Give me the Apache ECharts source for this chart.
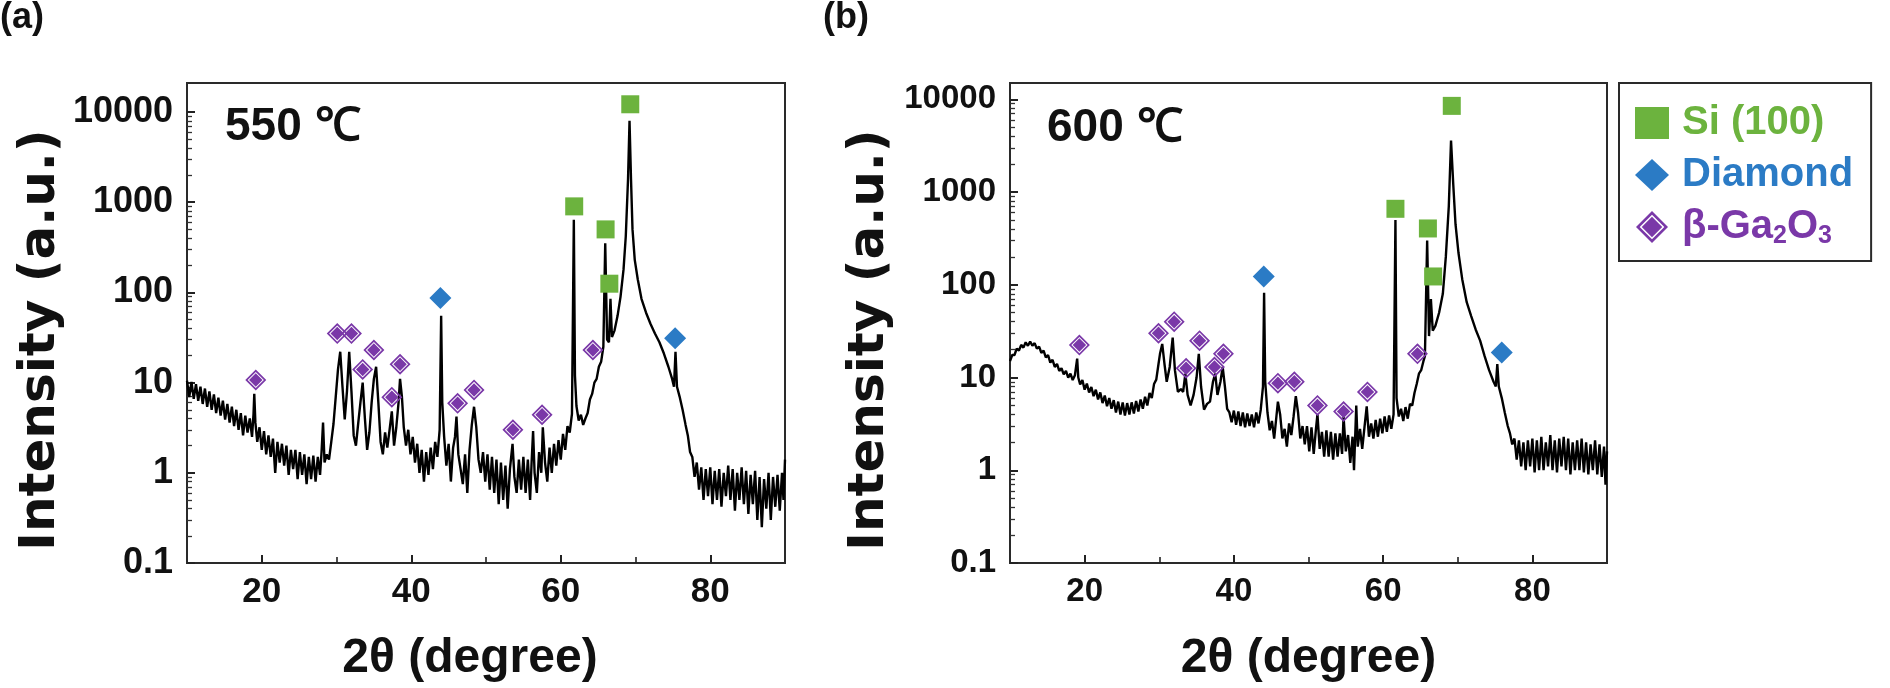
<!DOCTYPE html>
<html><head><meta charset="utf-8">
<script src="https://cdn.jsdelivr.net/npm/echarts@6/dist/echarts.min.js"></script>
<style>html,body{margin:0;padding:0;background:#fff}#c{width:1890px;height:688px}</style>
</head><body><div id="c"></div>
<script>
// ---- tick values / labels ----
const xTicks = [20, 40, 60, 80];
const xMinorTicks = [30, 50, 70];
const yTicks = [0.1, 1, 10, 100, 1000, 10000];
const yTickLabels = ['0.1', '1', '10', '100', '1000', '10000'];
const yMinorTicks = [0.2,0.3,0.4,0.5,0.6,0.7,0.8,0.9,2,3,4,5,6,7,8,9,20,30,40,50,60,70,80,90,200,300,400,500,600,700,800,900,2000,3000,4000,5000,6000,7000,8000,9000];
const legendNames = ['Si (100)', 'Diamond', 'β-Ga2O3'];
const panelLabels = ['(a)', '(b)'];
const tempLabels = ['550 ℃', '600 ℃'];

// ---- XRD pattern, 550 C (2theta, intensity) ----
const pattern550 = [[10.0,10.5],[10.3,6.9],[10.6,10.2],[10.9,6.6],[11.2,9.6],[11.5,6.3],[11.8,9.0],[12.1,5.8],[12.4,8.6],[12.7,5.4],[13.0,8.0],[13.3,5.0],[13.6,7.4],[13.9,4.6],[14.2,6.8],[14.5,4.3],[14.8,6.3],[15.1,3.9],[15.4,5.8],[15.7,3.6],[16.0,5.4],[16.3,3.3],[16.6,5.0],[16.9,3.0],[17.2,4.6],[17.5,2.6],[17.8,4.3],[18.1,2.8],[18.4,4.0],[18.7,2.5],[18.9,4.5],[19.0,7.5],[19.15,3.6],[19.4,2.2],[19.7,3.2],[20.0,1.8],[20.3,2.9],[20.6,1.6],[20.9,2.6],[21.2,1.5],[21.5,2.4],[21.8,1.0],[22.1,2.2],[22.4,1.3],[22.7,2.1],[23.0,1.2],[23.3,2.0],[23.6,0.95],[23.9,1.8],[24.2,1.1],[24.5,1.8],[24.8,0.85],[25.1,1.7],[25.4,0.95],[25.7,1.6],[26.0,0.75],[26.3,1.5],[26.6,0.85],[26.9,1.55],[27.2,0.8],[27.5,1.5],[27.8,0.95],[28.0,1.7],[28.2,3.6],[28.4,1.3],[28.7,1.6],[29.0,1.4],[29.3,2.2],[29.6,3.5],[29.9,7],[30.2,14],[30.5,22],[30.8,9],[31.1,3.9],[31.4,8],[31.7,22],[32.0,8],[32.3,2.6],[32.6,2.0],[32.9,3.5],[33.2,6],[33.5,10],[33.8,4],[34.1,1.8],[34.4,2.8],[34.7,6],[35.0,11],[35.3,15],[35.6,6],[35.9,2.2],[36.2,1.6],[36.5,2.8],[36.8,1.9],[37.1,3.0],[37.4,4.8],[37.7,2.0],[38.0,3.2],[38.3,6],[38.5,11],[38.75,7],[39.0,3.2],[39.3,2.0],[39.6,3.0],[39.9,1.6],[40.2,2.5],[40.5,1.3],[40.8,2.1],[41.1,1.0],[41.4,1.8],[41.7,0.8],[42.0,1.7],[42.3,0.95],[42.6,1.9],[42.9,1.1],[43.2,2.2],[43.5,1.5],[43.8,3.0],[44.0,55],[44.15,6],[44.4,2.5],[44.7,1.2],[45.0,2.1],[45.3,0.8],[45.6,1.9],[45.85,2.5],[46.05,4.2],[46.3,1.6],[46.6,1.1],[46.9,0.75],[47.2,1.6],[47.5,0.6],[47.8,1.8],[48.1,3.4],[48.4,5.4],[48.7,3.2],[49.0,1.4],[49.3,1.0],[49.6,1.7],[49.9,0.8],[50.2,1.6],[50.5,0.65],[50.8,1.5],[51.1,0.6],[51.4,1.4],[51.7,0.45],[52.0,1.3],[52.3,0.5],[52.6,1.2],[52.9,0.4],[53.2,1.1],[53.55,2.1],[53.8,0.9],[54.1,0.6],[54.4,1.4],[54.7,0.65],[55.0,1.5],[55.3,0.6],[55.6,1.4],[55.9,0.5],[56.1,1.3],[56.3,2.9],[56.5,1.0],[56.8,0.6],[57.1,1.7],[57.4,1.0],[57.6,3.2],[57.9,1.3],[58.2,0.8],[58.5,1.9],[58.8,1.0],[59.1,2.1],[59.4,1.2],[59.7,2.3],[60.0,1.4],[60.3,2.7],[60.6,1.8],[60.9,3.3],[61.2,2.8],[61.5,4.5],[61.75,640],[61.9,12],[62.1,5.5],[62.4,3.8],[62.7,4.4],[63.0,3.4],[63.3,4.0],[63.6,4.6],[63.9,6.5],[64.2,7.5],[64.5,10],[64.8,11],[65.1,15],[65.4,17],[65.7,25],[65.95,350],[66.2,30],[66.45,28],[66.65,85],[66.85,32],[67.2,38],[67.6,55],[68.0,90],[68.4,180],[68.7,420],[69.0,1800],[69.2,8000],[69.4,1800],[69.6,500],[69.9,230],[70.3,140],[70.8,85],[71.4,60],[72.0,45],[72.6,35],[73.2,28],[73.8,21],[74.4,15],[74.9,11],[75.15,9],[75.35,22],[75.55,9],[75.9,7],[76.3,5],[76.7,3.4],[77.0,2.6],[77.3,1.7],[77.6,1.5],[77.9,0.9],[78.2,1.3],[78.5,0.65],[78.8,1.15],[79.1,0.5],[79.4,1.1],[79.7,0.55],[80.0,1.15],[80.3,0.45],[80.6,1.05],[80.9,0.5],[81.2,1.1],[81.5,0.42],[81.8,1.0],[82.1,0.55],[82.4,1.2],[82.7,0.5],[83.0,1.1],[83.3,0.38],[83.6,1.0],[83.9,0.5],[84.2,1.15],[84.5,0.45],[84.8,1.05],[85.1,0.35],[85.4,0.95],[85.7,0.45],[86.0,1.05],[86.3,0.3],[86.6,0.9],[86.9,0.25],[87.2,0.85],[87.5,0.4],[87.8,1.0],[88.1,0.3],[88.4,0.9],[88.7,0.42],[89.0,0.95],[89.3,0.38],[89.6,1.0],[89.8,0.5],[90.0,1.4]];

// ---- XRD pattern, 600 C ----
const pattern600 = [[10.0,15],[10.3,17.5],[10.6,17.5],[10.9,20.5],[11.2,19.5],[11.5,22.5],[11.8,21],[12.1,24],[12.4,22],[12.7,24.5],[13.0,22],[13.3,23.5],[13.6,20.5],[13.9,21.5],[14.2,18.5],[14.5,19.5],[14.8,16.5],[15.1,17.5],[15.4,14.5],[15.7,15.5],[16.0,13],[16.3,14],[16.6,11.8],[16.9,12.6],[17.2,10.8],[17.5,11.8],[17.8,10.0],[18.1,11.0],[18.4,9.4],[18.7,10.6],[18.9,11],[19.0,16],[19.15,10],[19.4,8.4],[19.7,9.4],[20.0,7.4],[20.3,8.6],[20.6,6.9],[20.9,7.9],[21.2,6.3],[21.5,7.4],[21.8,5.8],[22.1,6.9],[22.4,5.3],[22.7,6.4],[23.0,4.9],[23.3,6.0],[23.6,4.6],[23.9,5.7],[24.2,4.2],[24.5,5.5],[24.8,4.0],[25.1,5.4],[25.4,3.9],[25.7,5.3],[26.0,4.0],[26.3,5.4],[26.6,4.1],[26.9,5.6],[27.2,4.3],[27.5,5.8],[27.8,4.6],[28.1,6.2],[28.4,5.0],[28.7,6.8],[29.0,6.0],[29.3,8.5],[29.6,9.5],[29.9,14],[30.1,18],[30.4,23],[30.7,14],[31.0,9],[31.4,13],[31.8,27],[32.1,12],[32.5,7],[32.9,7.5],[33.2,7],[33.5,11],[33.8,6.5],[34.2,5],[34.6,6.5],[35.0,10],[35.3,18],[35.6,8],[36.0,4.5],[36.4,5.2],[36.8,5.5],[37.2,9],[37.5,11],[37.8,6.5],[38.2,9],[38.5,13],[38.8,8],[39.1,4.6],[39.4,4.2],[39.7,3.3],[40.0,4.4],[40.3,3.1],[40.6,4.3],[40.9,3.0],[41.2,4.2],[41.5,2.9],[41.8,4.1],[42.1,3.0],[42.4,4.0],[42.7,2.9],[43.0,4.2],[43.3,3.2],[43.6,4.5],[43.9,8],[44.05,82],[44.2,9],[44.5,4.2],[44.8,2.7],[45.1,3.4],[45.4,2.2],[45.7,3.8],[45.9,5.5],[46.2,4],[46.5,2.2],[46.8,2.8],[47.1,1.8],[47.4,3.2],[47.7,2.4],[48.0,3.8],[48.3,6.3],[48.6,4.2],[48.9,2.2],[49.2,3.0],[49.5,1.9],[49.8,3.0],[50.1,1.6],[50.4,2.9],[50.7,1.5],[51.0,2.8],[51.2,4.0],[51.5,1.7],[51.8,2.6],[52.1,1.4],[52.4,2.7],[52.7,1.4],[53.0,2.6],[53.3,1.3],[53.6,2.5],[53.9,1.4],[54.2,2.5],[54.5,1.5],[54.7,3.8],[55.0,1.6],[55.3,2.4],[55.6,1.2],[55.9,2.3],[56.1,1.0],[56.4,5.0],[56.6,1.8],[56.9,2.8],[57.2,1.7],[57.5,2.9],[57.8,4.9],[58.1,2.3],[58.4,3.2],[58.7,2.2],[59.0,3.5],[59.3,2.3],[59.6,3.6],[59.9,2.5],[60.2,3.8],[60.5,2.6],[60.8,3.9],[61.1,2.8],[61.4,4.0],[61.65,500],[61.8,6],[62.1,3.8],[62.4,4.6],[62.7,3.4],[63.0,4.8],[63.3,3.6],[63.6,5.2],[63.9,5.0],[64.2,6.8],[64.5,8.5],[64.8,11],[65.1,12],[65.4,15],[65.6,17],[65.9,300],[66.15,28],[66.4,70],[66.65,32],[67.0,36],[67.5,50],[68.0,80],[68.4,200],[68.8,700],[69.1,3600],[69.4,1200],[69.7,450],[70.1,220],[70.6,115],[71.2,65],[71.8,46],[72.4,33],[73.0,25],[73.6,17],[74.2,12],[74.8,9],[75.1,8],[75.3,14],[75.5,8],[75.9,6],[76.3,4.2],[76.7,3.0],[77.0,2.5],[77.3,1.9],[77.6,2.2],[77.9,1.3],[78.2,2.1],[78.5,1.1],[78.8,2.0],[79.1,1.0],[79.4,2.1],[79.7,1.1],[80.0,2.2],[80.3,0.95],[80.6,2.1],[80.9,1.0],[81.2,2.3],[81.5,1.0],[81.8,2.0],[82.1,1.1],[82.4,2.4],[82.7,1.0],[83.0,2.1],[83.3,0.95],[83.6,2.2],[83.9,1.1],[84.2,2.3],[84.5,1.0],[84.8,2.2],[85.1,0.9],[85.4,2.0],[85.7,1.0],[86.0,2.1],[86.3,1.0],[86.6,2.2],[86.9,0.95],[87.2,2.0],[87.5,0.9],[87.8,1.9],[88.1,1.0],[88.4,2.1],[88.7,0.9],[89.0,1.9],[89.3,0.85],[89.6,1.8],[89.8,0.7],[90.0,1.6]];

// ---- peak markers ----
const si550 = [[61.8,900],[66.0,500],[66.5,125],[69.3,12200]];
const diamond550 = [[43.9,87],[75.3,31]];
const ga550 = [[19.2,10.7],[30.1,35],[32.0,35],[33.5,14],[35.0,23],[37.4,6.9],[38.5,16],[46.2,5.9],[48.4,8.3],[53.6,3.0],[57.5,4.4],[64.3,23]];
const si600 = [[61.65,660],[66.0,405],[66.7,123],[69.2,8500]];
const diamond600 = [[44.0,123],[75.9,18.6]];
const ga600 = [[19.3,22.4],[29.9,30],[32.0,40],[33.6,12.6],[35.4,25],[37.4,13],[38.6,18],[45.9,8.7],[48.1,9.0],[51.2,5.0],[54.7,4.3],[57.9,7.0],[64.6,18]];

const GREEN = '#6cb33e', BLUE = '#2b7bc5', PURPLE = '#7a38a8';
const GA_SYMBOL = 'path://M10,0L20,10L10,20L0,10Z M10,2.3L2.3,10L10,17.7L17.7,10Z M10,3.6L16.4,10L10,16.4L3.6,10Z';
const FONT = 'Liberation Sans';

function yLabel(v) {
  const i = yTicks.findIndex(t => Math.abs(Math.log10(t) - Math.log10(v)) < 1e-6);
  return i >= 0 ? yTickLabels[i] : '';
}
function xMajor(g, fs, titlePad) {
  return {
    type: 'value', gridIndex: g, position: 'bottom', min: 10, max: 90,
    axisLine: { show: false }, splitLine: { show: false },
    axisTick: { show: true, inside: true, length: 8, customValues: xTicks, lineStyle: { color: '#222', width: 2 } },
    axisLabel: { customValues: xTicks, margin: 12, fontFamily: FONT, fontWeight: 'bold', fontSize: fs, color: '#111' },
    name: '2θ (degree)', nameLocation: 'middle', nameGap: 72,
    nameTextStyle: { fontFamily: FONT, fontWeight: 'bold', fontSize: 48, color: '#111', padding: titlePad }
  };
}
function xMinor(g) {
  return {
    type: 'value', gridIndex: g, position: 'bottom', min: 10, max: 90,
    axisLine: { show: false }, splitLine: { show: false }, axisLabel: { show: false },
    axisTick: { show: true, inside: true, length: 6, customValues: xMinorTicks, lineStyle: { color: '#222', width: 1.6 } }
  };
}
function yMajor(g, max, fs, gap) {
  return {
    type: 'log', logBase: 10, gridIndex: g, position: 'left', min: 0.1, max: max,
    axisLine: { show: false }, splitLine: { show: false },
    axisTick: { show: true, inside: true, length: 8, customValues: yTicks, lineStyle: { color: '#222', width: 2 } },
    axisLabel: { customValues: yTicks, margin: 14, formatter: yLabel, fontFamily: FONT, fontWeight: 'bold', fontSize: fs, color: '#111' },
    name: 'Intensity (a.u.)', nameLocation: 'middle', nameGap: gap,
    nameTextStyle: { fontFamily: 'DejaVu Sans', fontWeight: 'bold', fontSize: 50, color: '#111', padding: [0, 34, 0, 0] }
  };
}
function yMinor(g, max) {
  return {
    type: 'log', logBase: 10, gridIndex: g, position: 'left', min: 0.1, max: max,
    axisLine: { show: false }, splitLine: { show: false }, axisLabel: { show: false },
    axisTick: { show: true, inside: true, length: 5, customValues: yMinorTicks, lineStyle: { color: '#333', width: 1.3 } }
  };
}
function patternSeries(name, data, idx) {
  return { name, type: 'line', xAxisIndex: idx, yAxisIndex: idx, data, showSymbol: false, symbol: 'none',
    lineStyle: { color: '#000', width: 2.4, join: 'bevel' }, z: 2, silent: true };
}
function markSeries(name, data, idx, symbol, size, color) {
  return { name, type: 'scatter', xAxisIndex: idx, yAxisIndex: idx, data, symbol, symbolSize: size,
    itemStyle: { color: color, opacity: 1 }, z: 3 };
}

const chart = echarts.init(document.getElementById('c'), null, { renderer: 'canvas' });
chart.setOption({
  animation: false,
  backgroundColor: '#fff',
  grid: [
    { left: 187, top: 83, width: 598, height: 480, show: true, borderColor: '#2a2a2a', borderWidth: 2, backgroundColor: 'transparent', outerBoundsMode: 'none' },
    { left: 1010, top: 83, width: 597, height: 480, show: true, borderColor: '#2a2a2a', borderWidth: 2, backgroundColor: 'transparent', outerBoundsMode: 'none' }
  ],
  xAxis: [xMajor(0, 35, [0, 32, 0, 0]), xMinor(0), xMajor(1, 33, [0, 0, 0, 0]), xMinor(1)],
  yAxis: [yMajor(0, 21000, 36, 121), yMinor(0, 21000), yMajor(1, 15000, 33, 115), yMinor(1, 15000)],
  legend: {
    left: 1619, top: 83, orient: 'vertical',
    padding: [18, 18, 12, 16], itemGap: 8, itemWidth: 34, itemHeight: 32,
    borderColor: '#2a2a2a', borderWidth: 2, borderRadius: 0,
    selectedMode: false,
    textStyle: { fontFamily: FONT, fontWeight: 'bold', fontSize: 40, lineHeight: 44, padding: [0, 0, 0, 8],
      rich: {
        m: { fontFamily: FONT, fontWeight: 'bold', fontSize: 40, lineHeight: 44 },
        s: { fontFamily: FONT, fontWeight: 'bold', fontSize: 25, lineHeight: 44, verticalAlign: 'bottom' }
      } },
    formatter: function (n) { return n === 'β-Ga2O3' ? '{m|β-Ga}{s|2}{m|O}{s|3}' : n; },
    data: [
      { name: legendNames[0], textStyle: { color: GREEN } },
      { name: legendNames[1], textStyle: { color: BLUE } },
      { name: legendNames[2], textStyle: { color: PURPLE } }
    ]
  },
  graphic: [
    { type: 'text', x: 0, y: 18, style: { text: panelLabels[0], font: 'bold 36px "Liberation Sans"', fill: '#111', align: 'left', verticalAlign: 'middle' } },
    { type: 'text', x: 823, y: 18, style: { text: panelLabels[1], font: 'bold 36px "Liberation Sans"', fill: '#111', align: 'left', verticalAlign: 'middle' } },
    { type: 'text', x: 225, y: 127, z: 10, style: { text: tempLabels[0], font: 'bold 46px "Liberation Sans"', fill: '#111', align: 'left', verticalAlign: 'middle' } },
    { type: 'text', x: 1047, y: 128, z: 10, style: { text: tempLabels[1], font: 'bold 46px "Liberation Sans"', fill: '#111', align: 'left', verticalAlign: 'middle' } }
  ],
  series: [
    patternSeries('XRD 550', pattern550, 0),
    patternSeries('XRD 600', pattern600, 2),
    markSeries(legendNames[0], si550, 0, 'rect', 18, GREEN),
    markSeries(legendNames[1], diamond550, 0, 'diamond', 22, BLUE),
    markSeries(legendNames[2], ga550, 0, GA_SYMBOL, 21, PURPLE),
    markSeries(legendNames[0], si600, 2, 'rect', 18, GREEN),
    markSeries(legendNames[1], diamond600, 2, 'diamond', 22, BLUE),
    markSeries(legendNames[2], ga600, 2, GA_SYMBOL, 21, PURPLE)
  ]
});
</script>
</body></html>
